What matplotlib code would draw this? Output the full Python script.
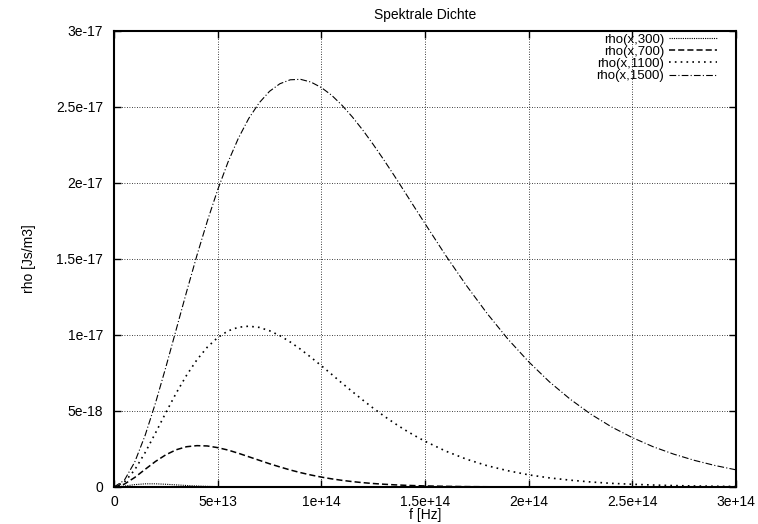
import matplotlib
matplotlib.use("Agg")
import matplotlib.pyplot as plt

plt.rcParams['font.family'] = ['Liberation Sans', 'DejaVu Sans']

# frequency samples [Hz]
freq = [0.0, 0.5e13, 1.0e13, 1.5e13, 2.0e13, 2.5e13, 3.0e13, 3.5e13, 4.0e13, 4.5e13,
        5.0e13, 5.5e13, 6.0e13, 6.5e13, 7.0e13, 7.5e13, 8.0e13, 8.5e13, 9.0e13, 9.5e13,
        1.00e14, 1.05e14, 1.10e14, 1.15e14, 1.20e14, 1.25e14, 1.30e14, 1.35e14, 1.40e14, 1.45e14,
        1.5e14, 1.6e14, 1.7e14, 1.8e14, 1.9e14, 2.0e14, 2.1e14, 2.2e14, 2.3e14, 2.4e14,
        2.5e14, 2.6e14, 2.7e14, 2.8e14, 2.9e14, 3.0e14]

rho_300 = [0.0, 6.3e-20, 1.56e-19, 2.08e-19, 2.10e-19, 1.80e-19, 1.39e-19, 9.9e-20, 6.6e-20, 4.2e-20,
           2.6e-20, 1.55e-20, 9.1e-21, 5.2e-21, 2.9e-21, 1.6e-21, 8.8e-22, 4.7e-22, 2.5e-22, 1.3e-22,
           7e-23, 3.6e-23, 1.9e-23, 1e-23, 5e-24, 3e-24, 1e-24, 0.0, 0.0, 0.0,
           0.0, 0.0, 0.0, 0.0, 0.0, 0.0, 0.0, 0.0, 0.0, 0.0,
           0.0, 0.0, 0.0, 0.0, 0.0, 0.0]

rho_700 = [0.0, 1.89e-19, 6.28e-19, 1.16e-18, 1.68e-18, 2.12e-18, 2.45e-18, 2.65e-18, 2.72e-18, 2.70e-18,
           2.59e-18, 2.43e-18, 2.22e-18, 1.99e-18, 1.76e-18, 1.53e-18, 1.32e-18, 1.12e-18, 9.44e-19, 7.88e-19,
           6.52e-19, 5.35e-19, 4.37e-19, 3.54e-19, 2.86e-19, 2.29e-19, 1.83e-19, 1.45e-19, 1.15e-19, 9.1e-20,
           7.1e-20, 4.4e-20, 2.6e-20, 1.6e-20, 9.3e-21, 5.5e-21, 3.2e-21, 1.9e-21, 1.07e-21, 6.1e-22,
           3.5e-22, 2.0e-22, 1.1e-22, 6e-23, 3.5e-23, 2e-23]

rho_1100 = [0.0, 3.17e-19, 1.13e-18, 2.26e-18, 3.55e-18, 4.89e-18, 6.18e-18, 7.35e-18, 8.37e-18, 9.20e-18,
            9.83e-18, 1.027e-17, 1.051e-17, 1.058e-17, 1.050e-17, 1.028e-17, 9.96e-18, 9.54e-18, 9.06e-18, 8.53e-18,
            7.98e-18, 7.41e-18, 6.83e-18, 6.27e-18, 5.72e-18, 5.19e-18, 4.69e-18, 4.22e-18, 3.78e-18, 3.38e-18,
            3.01e-18, 2.36e-18, 1.83e-18, 1.40e-18, 1.07e-18, 8.0e-19, 6.0e-19, 4.5e-19, 3.3e-19, 2.4e-19,
            1.8e-19, 1.3e-19, 9.3e-20, 6.7e-20, 4.8e-20, 3.5e-20]

rho_1500 = [0.0, 4.45e-19, 1.64e-18, 3.39e-18, 5.52e-18, 7.88e-18, 1.036e-17, 1.284e-17, 1.524e-17, 1.749e-17,
            1.955e-17, 2.138e-17, 2.295e-17, 2.425e-17, 2.527e-17, 2.603e-17, 2.653e-17, 2.679e-17, 2.682e-17, 2.664e-17,
            2.628e-17, 2.577e-17, 2.511e-17, 2.434e-17, 2.348e-17, 2.254e-17, 2.155e-17, 2.052e-17, 1.946e-17, 1.839e-17,
            1.733e-17, 1.523e-17, 1.325e-17, 1.141e-17, 9.73e-18, 8.24e-18, 6.92e-18, 5.78e-18, 4.79e-18, 3.95e-18,
            3.25e-18, 2.65e-18, 2.16e-18, 1.75e-18, 1.41e-18, 1.13e-18]

series_labels = ['rho(x,300)', 'rho(x,700)', 'rho(x,1100)', 'rho(x,1500)']

x_ticks = [0, 5e13, 1e14, 1.5e14, 2e14, 2.5e14, 3e14]
x_tick_labels = ['0', '5e+13', '1e+14', '1.5e+14', '2e+14', '2.5e+14', '3e+14']
y_ticks = [0, 5e-18, 1e-17, 1.5e-17, 2e-17, 2.5e-17, 3e-17]
y_tick_labels = ['0', '5e-18', '1e-17', '1.5e-17', '2e-17', '2.5e-17', '3e-17']

fig = plt.figure(figsize=(7.58, 5.24), dpi=100)
ax = fig.add_axes([114/758, 1 - 487/524, 622/758, 456/524])

styles = [(0, (1, 1)), (0, (4, 2)), (0, (1, 2.5)), (0, (6, 2, 1, 2))]
widths = [0.8, 1.1, 1.2, 0.8]
for ys, lab, ls, lw in zip([rho_300, rho_700, rho_1100, rho_1500], series_labels, styles, widths):
    ax.plot(freq, ys, color='black', linestyle=ls, linewidth=lw, label=lab)

ax.set_xlim(0, 3e14)
ax.set_ylim(0, 3e-17)
ax.set_xticks(x_ticks)
ax.set_xticklabels(x_tick_labels)
ax.set_yticks(y_ticks)
ax.set_yticklabels(y_tick_labels)
ax.tick_params(direction='in', length=5, width=1.0, labelsize=10, top=True, right=True,
               colors='black')
ax.tick_params(axis='y', pad=8)
ax.tick_params(axis='x', pad=6)
ax.grid(True, color='black', linestyle=(0, (1, 2)), linewidth=0.6)
for sp in ax.spines.values():
    sp.set_linewidth(1.5)

ax.set_title('Spektrale Dichte', fontsize=10, pad=9)
ax.set_xlabel('f [Hz]', fontsize=10, labelpad=-1)
ax.set_ylabel('rho [Js/m3]', fontsize=10, labelpad=14)

ax.legend(loc='upper right', bbox_to_anchor=(0.969, 0.995), frameon=False, fontsize=9.5,
          markerfirst=False, handlelength=3.6, handletextpad=0.4, labelspacing=0.0,
          borderpad=0, borderaxespad=0)

fig.savefig('out.png', dpi=100)
